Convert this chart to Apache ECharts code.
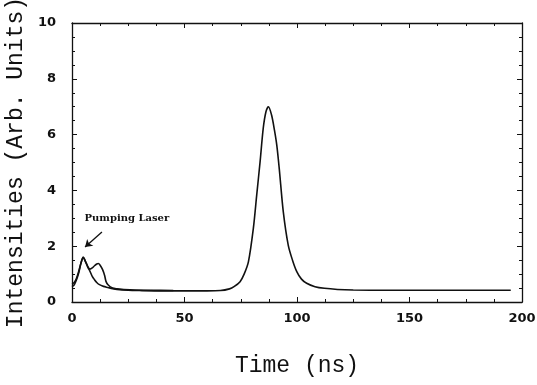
<!DOCTYPE html>
<html>
<head>
<meta charset="utf-8">
<script src="https://cdn.jsdelivr.net/npm/echarts@6/dist/echarts.min.js"></script>
<style>
html,body{margin:0;padding:0;background:#fff;}
#chart{width:537px;height:385px;}
</style>
</head>
<body>
<div id="chart"></div>
<script>
// Curve with main emission peak (and pumping laser pulse)
var timesA = [0, 1, 2, 3, 4, 5, 6, 7, 8, 9, 10, 11, 12, 14, 16, 18, 20, 25, 30, 40, 50, 60, 66, 70, 72, 74.7, 76.5, 78.4, 80.6, 82.1, 83.6, 85, 86.2, 87.3, 88.7, 90, 91, 92.1, 93.9, 96.1, 98, 99.9, 102, 104.3, 108, 112.2, 118, 125, 140, 160, 180, 195];
var valuesA = [0.55, 0.62, 0.8, 1.05, 1.4, 1.6, 1.45, 1.25, 1.1, 0.92, 0.8, 0.7, 0.63, 0.56, 0.52, 0.48, 0.45, 0.42, 0.41, 0.4, 0.4, 0.4, 0.41, 0.47, 0.55, 0.73, 1.0, 1.44, 2.64, 3.84, 5.03, 6.23, 6.82, 7.0, 6.7, 6.15, 5.63, 4.79, 3.24, 2.04, 1.5, 1.09, 0.82, 0.67, 0.55, 0.49, 0.45, 0.43, 0.42, 0.42, 0.42, 0.42];
// Second early curve with a shoulder
var timesB = [0, 1, 2, 3, 4, 5, 6, 7, 8, 9, 10, 11, 11.7, 12.5, 13.6, 14.5, 15.1, 16, 18, 20, 23, 28, 35, 45];
var valuesB = [0.65, 0.7, 0.85, 1.1, 1.4, 1.6, 1.45, 1.28, 1.18, 1.22, 1.3, 1.36, 1.38, 1.32, 1.16, 0.95, 0.74, 0.62, 0.5, 0.47, 0.45, 0.43, 0.42, 0.41];
var xTicks = [0, 50, 100, 150, 200];
var yTicks = [0, 2, 4, 6, 8, 10];
var annotationText = 'Pumping Laser';
var annotationAt = [24.4, 3.0];
var arrowFrom = [13.3, 2.51];
var arrowTo = [5.8, 1.97];

function pairs(t, v) { return t.map(function (x, i) { return [x, v[i]]; }); }

var chart = echarts.init(document.getElementById('chart'), null, {renderer: 'canvas'});
var tickFont = {fontFamily: 'DejaVu Sans', fontWeight: 'bold', fontSize: 13, color: '#111'};
var nameFont = {fontFamily: 'Liberation Mono', fontSize: 23, color: '#111'};

function xAx(pos, showLabel, extra) {
  return Object.assign({
    type: 'value', position: pos, min: xTicks[0], max: xTicks[xTicks.length - 1], interval: xTicks[1] - xTicks[0],
    axisLine: {show: true, onZero: false, lineStyle: {color: '#111', width: 1.3}},
    axisTick: {show: true, inside: true, length: 5, lineStyle: {color: '#111'}},
    minorTick: {show: true, splitNumber: 4, length: 3, lineStyle: {color: '#111'}},
    axisLabel: Object.assign({show: showLabel, margin: 10}, tickFont),
    splitLine: {show: false}
  }, extra || {});
}
function yAx(pos, showLabel, extra) {
  return Object.assign({
    type: 'value', position: pos, min: yTicks[0], max: yTicks[yTicks.length - 1], interval: yTicks[1] - yTicks[0],
    axisLine: {show: true, onZero: false, lineStyle: {color: '#111', width: 1.3}},
    axisTick: {show: true, inside: true, length: 5, lineStyle: {color: '#111'}},
    minorTick: {show: true, splitNumber: 4, length: 3, lineStyle: {color: '#111'}},
    axisLabel: Object.assign({show: showLabel, margin: 16}, tickFont),
    splitLine: {show: false}
  }, extra || {});
}

chart.setOption({
  animation: false,
  backgroundColor: '#fff',
  grid: {left: 72, right: 15, top: 23, bottom: 83, containLabel: false, outerBoundsMode: 'none'},
  xAxis: [
    xAx('bottom', true, {name: 'Time (ns)', nameLocation: 'middle', nameGap: 52, nameTextStyle: nameFont}),
    xAx('top', false)
  ],
  yAxis: [
    yAx('left', true, {name: 'Intensities (Arb. Units)', nameLocation: 'middle', nameGap: 32, nameTextStyle: nameFont}),
    yAx('right', false)
  ],
  series: [
    {
      type: 'line', xAxisIndex: 0, yAxisIndex: 0, data: pairs(timesA, valuesA),
      smooth: 0.3, showSymbol: false, lineStyle: {color: '#111', width: 1.6},
      markPoint: {
        silent: true, symbol: 'circle', symbolSize: 0,
        label: {show: true, position: 'inside', formatter: annotationText, fontFamily: 'DejaVu Serif', fontWeight: 'bold', fontSize: 10, color: '#111'},
        data: [{coord: annotationAt}]
      },
      markLine: {
        silent: true, symbol: ['none', 'arrow'], symbolSize: 7, label: {show: false},
        lineStyle: {color: '#111', width: 1.3, type: 'solid'},
        data: [[{coord: arrowFrom}, {coord: arrowTo}]]
      }
    },
    {
      type: 'line', xAxisIndex: 0, yAxisIndex: 0, data: pairs(timesB, valuesB),
      smooth: 0.3, showSymbol: false, lineStyle: {color: '#111', width: 1.6}
    }
  ]
});
</script>
</body>
</html>
